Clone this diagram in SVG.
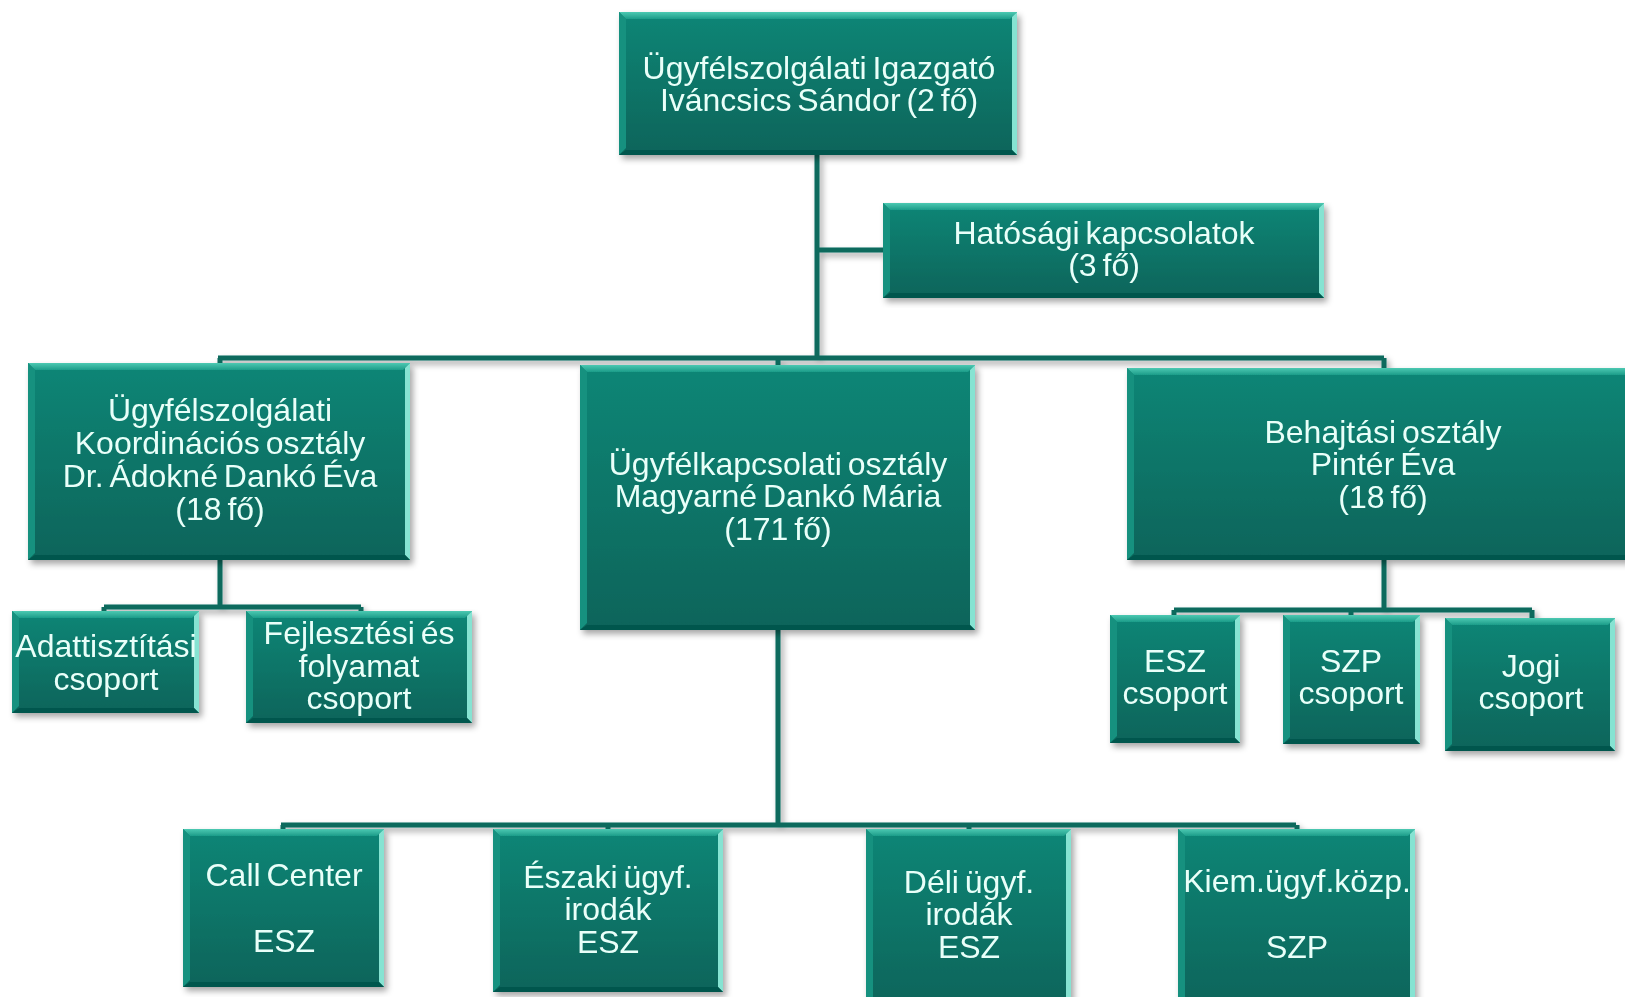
<svg xmlns="http://www.w3.org/2000/svg" width="1625" height="997" viewBox="0 0 1625 997">
<defs>
<linearGradient id="gBox" x1="0" y1="0" x2="0" y2="1">
<stop offset="0" stop-color="#0f8676"/>
<stop offset="1" stop-color="#08645a"/>
</linearGradient>
<linearGradient id="gTop" x1="0" y1="0" x2="0" y2="1">
<stop offset="0" stop-color="#4cc9b2"/>
<stop offset="1" stop-color="#1c9c89"/>
</linearGradient>
<filter id="sh" x="-5%" y="-5%" width="112%" height="115%">
<feGaussianBlur in="SourceAlpha" stdDeviation="3"/>
<feOffset dx="3" dy="4" result="b"/>
<feFlood flood-color="#000" flood-opacity="0.35"/>
<feComposite in2="b" operator="in"/>
<feMerge><feMergeNode/><feMergeNode in="SourceGraphic"/></feMerge>
</filter>
</defs>
<style>
.box{fill:url(#gBox)}
.bt{fill:url(#gTop)}
.bl{fill:#17917f}
.br{fill:#86e3d2}
.bb{fill:#06574d}
.node{filter:url(#sh)}
.node text{font-family:"Liberation Sans",Arial,sans-serif;font-size:32px;fill:#e9fff9;text-anchor:middle;word-spacing:-3px}
.conn{fill:none;stroke:#0b6a5d;stroke-width:5;filter:url(#sh)}
</style>
<rect width="1625" height="997" fill="#ffffff"/>
<g id="connectors" class="conn">
<path d="M817,155 V360"/>
<path d="M817,250 H883"/>
<path d="M218,358 H1384 M220,358 V363 M778,358 V365 M1384,358 V368"/>
<path d="M220,560 V607 M104,607 H361 M104,607 V611 M361,607 V611"/>
<path d="M1384,560 V610 M1174,610 H1532 M1174,610 V615 M1351,610 V615 M1532,610 V618"/>
<path d="M778,630 V825 M281,825 H1296 M283,825 V829 M608,825 V829 M969,825 V829 M1297,825 V829"/>
</g>
<g id="n-igazgato" class="node">
<rect class="box" x="619" y="12" width="398" height="143"/>
<path class="bt" d="M619,12 H1017 L1010,19 H626 Z"/>
<path class="bl" d="M619,12 L626,19 V148 L619,155 Z"/>
<path class="br" d="M1017,12 V155 L1012,150 V17 Z"/>
<path class="bb" d="M619,155 H1017 L1012,150 H626 Z"/>
<text x="819" y="79">Ügyfélszolgálati Igazgató</text>
<text x="819" y="111">Iváncsics Sándor (2 fő)</text>
</g>
<g id="n-hatosagi" class="node">
<rect class="box" x="883" y="203" width="441" height="95"/>
<path class="bt" d="M883,203 H1324 L1317,210 H890 Z"/>
<path class="bl" d="M883,203 L890,210 V291 L883,298 Z"/>
<path class="br" d="M1324,203 V298 L1319,293 V208 Z"/>
<path class="bb" d="M883,298 H1324 L1319,293 H890 Z"/>
<text x="1104" y="244">Hatósági kapcsolatok</text>
<text x="1104" y="276">(3 fő)</text>
</g>
<g id="n-koord" class="node">
<rect class="box" x="28" y="363" width="382" height="197"/>
<path class="bt" d="M28,363 H410 L403,370 H35 Z"/>
<path class="bl" d="M28,363 L35,370 V553 L28,560 Z"/>
<path class="br" d="M410,363 V560 L405,555 V368 Z"/>
<path class="bb" d="M28,560 H410 L405,555 H35 Z"/>
<text x="220" y="421">Ügyfélszolgálati</text>
<text x="220" y="454">Koordinációs osztály</text>
<text x="220" y="487">Dr. Ádokné Dankó Éva</text>
<text x="220" y="520">(18 fő)</text>
</g>
<g id="n-ugyfelkapcs" class="node">
<rect class="box" x="580" y="365" width="395" height="265"/>
<path class="bt" d="M580,365 H975 L968,372 H587 Z"/>
<path class="bl" d="M580,365 L587,372 V623 L580,630 Z"/>
<path class="br" d="M975,365 V630 L970,625 V370 Z"/>
<path class="bb" d="M580,630 H975 L970,625 H587 Z"/>
<text x="778" y="475">Ügyfélkapcsolati osztály</text>
<text x="778" y="507">Magyarné Dankó Mária</text>
<text x="778" y="540">(171 fő)</text>
</g>
<g id="n-behajtasi" class="node">
<rect class="box" x="1127" y="368" width="520" height="192"/>
<path class="bt" d="M1127,368 H1647 L1640,375 H1134 Z"/>
<path class="bl" d="M1127,368 L1134,375 V553 L1127,560 Z"/>
<path class="bb" d="M1127,560 H1647 L1642,555 H1134 Z"/>
<text x="1383" y="443">Behajtási osztály</text>
<text x="1383" y="475">Pintér Éva</text>
<text x="1383" y="508">(18 fő)</text>
</g>
<g id="n-adat" class="node">
<rect class="box" x="12" y="611" width="187" height="102"/>
<path class="bt" d="M12,611 H199 L192,618 H19 Z"/>
<path class="bl" d="M12,611 L19,618 V706 L12,713 Z"/>
<path class="br" d="M199,611 V713 L194,708 V616 Z"/>
<path class="bb" d="M12,713 H199 L194,708 H19 Z"/>
<text x="106" y="657">Adattisztítási</text>
<text x="106" y="690">csoport</text>
</g>
<g id="n-fejl" class="node">
<rect class="box" x="246" y="611" width="226" height="112"/>
<path class="bt" d="M246,611 H472 L465,618 H253 Z"/>
<path class="bl" d="M246,611 L253,618 V716 L246,723 Z"/>
<path class="br" d="M472,611 V723 L467,718 V616 Z"/>
<path class="bb" d="M246,723 H472 L467,718 H253 Z"/>
<text x="359" y="644">Fejlesztési és</text>
<text x="359" y="677">folyamat</text>
<text x="359" y="709">csoport</text>
</g>
<g id="n-esz" class="node">
<rect class="box" x="1110" y="615" width="130" height="128"/>
<path class="bt" d="M1110,615 H1240 L1233,622 H1117 Z"/>
<path class="bl" d="M1110,615 L1117,622 V736 L1110,743 Z"/>
<path class="br" d="M1240,615 V743 L1235,738 V620 Z"/>
<path class="bb" d="M1110,743 H1240 L1235,738 H1117 Z"/>
<text x="1175" y="672">ESZ</text>
<text x="1175" y="704">csoport</text>
</g>
<g id="n-szp" class="node">
<rect class="box" x="1283" y="615" width="137" height="129"/>
<path class="bt" d="M1283,615 H1420 L1413,622 H1290 Z"/>
<path class="bl" d="M1283,615 L1290,622 V737 L1283,744 Z"/>
<path class="br" d="M1420,615 V744 L1415,739 V620 Z"/>
<path class="bb" d="M1283,744 H1420 L1415,739 H1290 Z"/>
<text x="1351" y="672">SZP</text>
<text x="1351" y="704">csoport</text>
</g>
<g id="n-jogi" class="node">
<rect class="box" x="1445" y="618" width="170" height="133"/>
<path class="bt" d="M1445,618 H1615 L1608,625 H1452 Z"/>
<path class="bl" d="M1445,618 L1452,625 V744 L1445,751 Z"/>
<path class="br" d="M1615,618 V751 L1610,746 V623 Z"/>
<path class="bb" d="M1445,751 H1615 L1610,746 H1452 Z"/>
<text x="1531" y="677">Jogi</text>
<text x="1531" y="709">csoport</text>
</g>
<g id="n-callcenter" class="node">
<rect class="box" x="183" y="829" width="201" height="158"/>
<path class="bt" d="M183,829 H384 L377,836 H190 Z"/>
<path class="bl" d="M183,829 L190,836 V980 L183,987 Z"/>
<path class="br" d="M384,829 V987 L379,982 V834 Z"/>
<path class="bb" d="M183,987 H384 L379,982 H190 Z"/>
<text x="284" y="886">Call Center</text>
<text x="284" y="952">ESZ</text>
</g>
<g id="n-eszaki" class="node">
<rect class="box" x="493" y="829" width="230" height="163"/>
<path class="bt" d="M493,829 H723 L716,836 H500 Z"/>
<path class="bl" d="M493,829 L500,836 V985 L493,992 Z"/>
<path class="br" d="M723,829 V992 L718,987 V834 Z"/>
<path class="bb" d="M493,992 H723 L718,987 H500 Z"/>
<text x="608" y="888">Északi ügyf.</text>
<text x="608" y="920">irodák</text>
<text x="608" y="953">ESZ</text>
</g>
<g id="n-deli" class="node">
<rect class="box" x="866" y="829" width="205" height="180"/>
<path class="bt" d="M866,829 H1071 L1064,836 H873 Z"/>
<path class="bl" d="M866,829 L873,836 V1009 L866,1009 Z"/>
<path class="br" d="M1071,829 V1009 L1066,1009 V834 Z"/>
<text x="969" y="893">Déli ügyf.</text>
<text x="969" y="925">irodák</text>
<text x="969" y="958">ESZ</text>
</g>
<g id="n-kiem" class="node">
<rect class="box" x="1178" y="829" width="237" height="180"/>
<path class="bt" d="M1178,829 H1415 L1408,836 H1185 Z"/>
<path class="bl" d="M1178,829 L1185,836 V1009 L1178,1009 Z"/>
<path class="br" d="M1415,829 V1009 L1410,1009 V834 Z"/>
<text x="1297" y="892">Kiem.ügyf.közp.</text>
<text x="1297" y="958">SZP</text>
</g>
</svg>
